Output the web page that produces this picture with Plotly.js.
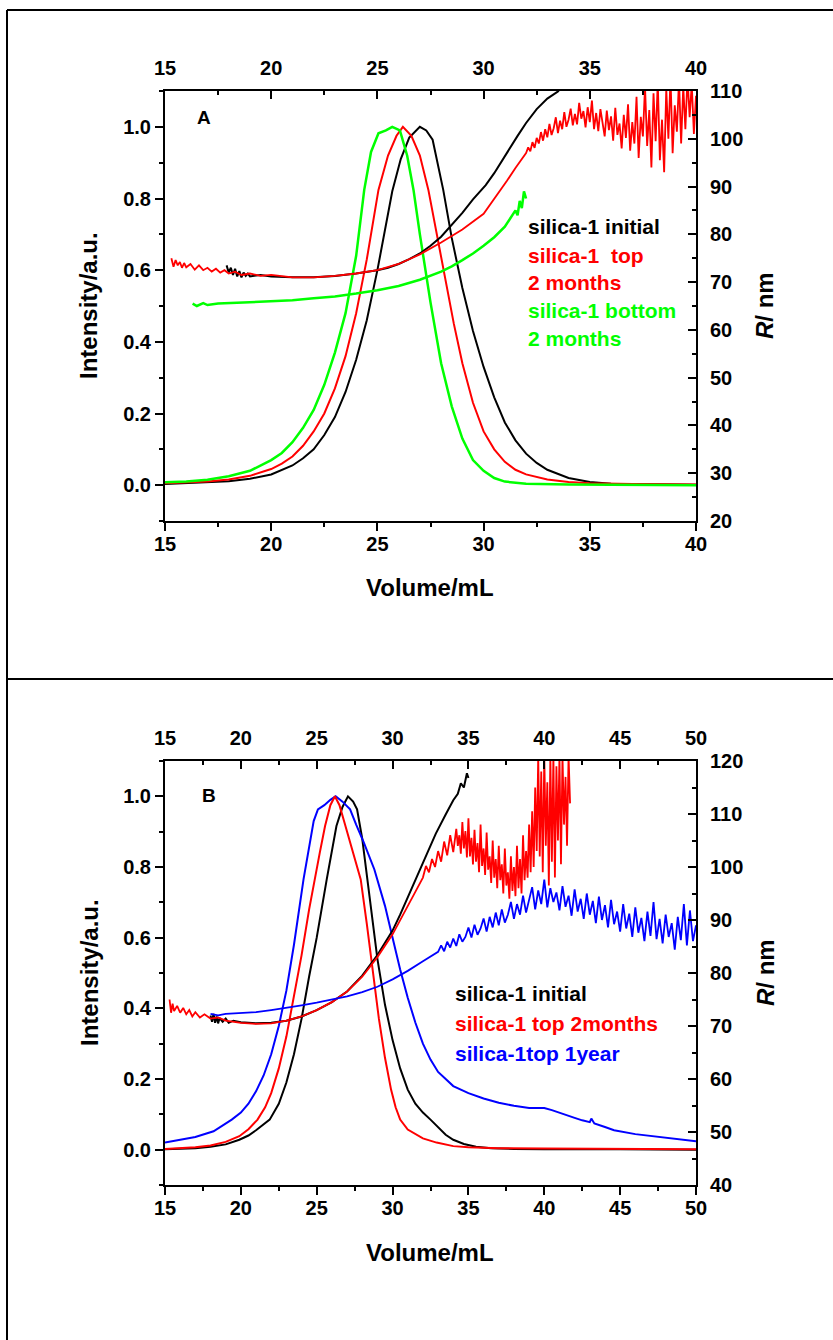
<!DOCTYPE html>
<html><head><meta charset="utf-8">
<script src="https://cdn.plot.ly/plotly-3.0.1.min.js"></script>
<style>html,body{margin:0;padding:0;background:#fff}#chart{width:833px;height:1340px}</style>
</head><body><div id="chart"></div>
<script>
// ---------- Panel A : intensity (left axis) ----------
const A_black_int_v = [15,16,17,18,19,20,21,21.5,22,22.5,23,23.5,24,24.5,25,25.4,25.7,26.1,26.5,27,27.3,27.6,28.1,28.5,29,29.5,30,30.5,31,31.5,32,32.5,33,34,35,36,38,40];
const A_black_int   = [0.003,0.005,0.007,0.011,0.018,0.03,0.055,0.075,0.1,0.14,0.19,0.26,0.35,0.46,0.6,0.72,0.82,0.91,0.97,1.0,0.99,0.964,0.824,0.69,0.55,0.43,0.33,0.245,0.175,0.125,0.088,0.062,0.043,0.02,0.009,0.004,0.002,0.001];
const A_red_int_v = [15,16,17,18,19,20,20.5,21,21.5,22,22.5,23,23.5,24,24.5,25.05,25.5,25.9,26.2,26.6,27,27.4,27.8,28.2,28.6,29,29.5,30,30.5,31,31.5,32,33,34,35,37,40];
const A_red_int   = [0.005,0.007,0.01,0.016,0.026,0.045,0.06,0.08,0.11,0.15,0.2,0.27,0.36,0.48,0.63,0.824,0.92,0.975,1.0,0.975,0.92,0.824,0.7,0.57,0.45,0.34,0.23,0.15,0.1,0.065,0.043,0.03,0.016,0.009,0.005,0.003,0.002];
const A_green_int_v = [15,16,17,18,19,20,20.5,21,21.5,22,22.5,23,23.5,24,24.38,24.7,25.05,25.4,25.7,26.06,26.4,26.7,27,27.5,28,28.5,29,29.5,30,30.5,31,32,34,36,40];
const A_green_int   = [0.008,0.01,0.015,0.025,0.04,0.07,0.09,0.12,0.16,0.21,0.28,0.37,0.48,0.64,0.824,0.93,0.982,0.99,1.0,0.99,0.92,0.824,0.7,0.51,0.34,0.22,0.13,0.07,0.04,0.02,0.01,0.004,0.002,0.001,0.0];

// ---------- Panel A : radius (right axis) ----------
const A_black_R_v = [17.9,18.0,18.1,18.2,18.3,18.4,18.5,18.6,18.7,18.8,18.9,19.0,19.5,20,21,22,23,24,25,25.5,26,26.5,27,27.5,28,28.5,29,29.5,30.1,30.5,31,31.6,32,32.5,33,33.5,33.7];
const A_black_R   = [73.5,72.0,73.0,71.5,72.8,71.2,72.3,71.0,72.0,71.3,71.8,71.2,71.5,71.2,71.0,71.0,71.3,71.8,72.5,73.0,73.8,74.8,76.0,77.6,79.5,81.9,84.5,87.3,90.3,92.8,96.4,100.6,103.3,106.2,108.4,109.9,111.0];
const A_red_R_v = [15.3,15.4,15.5,15.6,15.7,15.8,15.9,16.0,16.2,16.4,16.6,16.8,17.0,17.2,17.4,17.6,17.8,18.0,18.3,18.6,19.0,19.5,20,21,22,23,24,25,26,27,28,29,30,30.5,31.1,31.5,
  32.0,32.1,32.2,32.3,32.4,32.5,32.6,32.7,32.8,32.9,33.0,33.1,33.2,33.3,33.4,33.5,33.6,33.7,33.8,33.9,34.0,34.1,34.2,34.3,34.4,34.5,34.6,34.7,34.8,34.9,
  35.0,35.1,35.2,35.3,35.4,35.5,35.6,35.7,35.8,35.9,36.0,36.1,36.2,36.3,36.4,36.5,36.6,36.7,36.8,36.9,37.0,37.1,37.2,37.3,37.4,37.5,37.6,37.7,37.8,37.9,
  38.0,38.1,38.2,38.3,38.4,38.5,38.6,38.7,38.8,38.9,39.0,39.1,39.2,39.3,39.4,39.5,39.6,39.7,39.8,39.9,40.0];
const A_red_R   = [75.0,73.2,74.6,73.5,74.2,73.0,74.0,73.1,73.8,72.6,73.5,72.5,73.0,72.2,72.8,72.0,72.5,71.8,72.2,71.5,71.8,71.3,71.5,71.0,71.0,71.3,71.8,72.5,73.8,75.8,78.3,81.0,84.3,87.4,91.2,93.9,
  97.0,98.2,97.4,99.3,98.1,100.2,99.0,101.4,99.6,102.0,100.3,103.1,100.8,102.2,104.5,101.2,103.8,102.0,105.6,102.5,104.0,106.3,102.8,105.2,103.0,107.5,104.2,105.8,102.4,106.6,
  103.5,108.0,102.0,105.4,101.6,106.2,103.0,100.5,105.9,101.8,104.7,99.6,106.5,100.8,103.2,98.0,105.0,100.2,107.2,97.5,103.5,99.0,108.8,96.0,104.6,100.5,111.0,98.5,106.0,94.0,
  109.5,99.5,112.0,95.5,104.0,93.0,110.5,100.0,113.0,97.0,107.0,101.5,112.5,99.0,111.0,102.0,113.0,104.5,111.5,101.0,109.0];
const A_green_R_v = [16.3,16.5,16.8,17,17.5,18,19,20,21,22,23,24,25,26,27,28,28.5,29,29.5,30,30.5,31,31.3,31.5,31.6,31.7,31.8,31.9,32.0];
const A_green_R   = [65.5,65.0,65.6,65.2,65.5,65.6,65.8,66.0,66.2,66.6,67.0,67.6,68.3,69.2,70.5,72.2,73.3,74.6,76.0,77.6,79.4,81.6,83.5,85.0,84.0,87.0,85.5,89.0,87.5];

// ---------- Panel B : intensity (left axis) ----------
const B_black_int_v = [15,16,17,18,19,19.9,20.5,21,21.9,22.5,23,23.5,24,24.5,25,25.66,26,26.3,26.7,27.06,27.4,27.66,28,28.25,28.6,29,29.5,30,30.5,31,31.5,32,32.5,33,33.5,34,34.7,35.5,36.5,38,40,45,50];
const B_black_int   = [0.001,0.002,0.004,0.008,0.015,0.028,0.04,0.055,0.085,0.13,0.19,0.27,0.37,0.49,0.6,0.765,0.85,0.916,0.97,1.0,0.985,0.963,0.88,0.793,0.67,0.54,0.41,0.31,0.23,0.17,0.13,0.105,0.085,0.062,0.042,0.028,0.016,0.008,0.004,0.002,0.001,0.001,0.0];
const B_red_int_v = [15,16,17,18,19,19.9,20.5,21.1,21.6,22,22.5,23,23.5,24,24.5,24.85,25.2,25.55,25.9,26.2,26.5,26.8,27.2,27.9,28.3,28.7,29.1,29.5,29.9,30.2,30.5,31,31.4,32,32.9,34,35,37,40,45,50];
const B_red_int   = [0.002,0.004,0.007,0.012,0.022,0.038,0.058,0.085,0.12,0.16,0.23,0.32,0.43,0.55,0.68,0.765,0.84,0.916,0.975,1.0,0.975,0.93,0.87,0.765,0.64,0.5,0.37,0.26,0.17,0.12,0.085,0.057,0.047,0.032,0.02,0.01,0.007,0.004,0.003,0.002,0.001];
const B_blue_int_v = [15,16,17,18.2,19.4,20,20.5,21,21.5,22,22.5,23,23.5,24.13,24.5,24.8,25.08,25.5,25.9,26.25,26.7,27.2,27.6,28.1,28.8,29.5,30,30.5,31,31.5,32,32.5,33,34,35,36,37,38,39,39.5,40,40.5,41,42,42.5,43,43.1,43.3,44,44.6,46,48,50];
const B_blue_int   = [0.02,0.027,0.036,0.052,0.085,0.105,0.13,0.165,0.21,0.27,0.35,0.45,0.58,0.765,0.86,0.93,0.963,0.975,0.99,1.0,0.985,0.963,0.92,0.87,0.793,0.69,0.6,0.51,0.43,0.36,0.3,0.255,0.22,0.18,0.16,0.145,0.133,0.124,0.118,0.117,0.118,0.112,0.104,0.09,0.083,0.078,0.088,0.074,0.064,0.055,0.044,0.033,0.024];

// ---------- Panel B : radius (right axis) ----------
const B_black_R_v = [18.0,18.1,18.2,18.3,18.4,18.5,18.6,18.8,19.0,19.2,19.5,20,21,22,23,24,25,26,27,28,29,30,30.5,31.2,32,32.85,33.5,34,34.3,34.5,34.7,34.9,35.0];
const B_black_R   = [72.0,70.8,72.3,70.6,71.8,70.5,71.5,70.8,71.4,70.6,71.0,70.7,70.5,70.6,71.0,71.8,73.0,74.5,76.5,79.5,83.4,88.0,91.0,95.6,100.8,106.3,109.9,112.6,113.8,115.8,115.0,117.7,116.8];
const B_red_R_v = [15.3,15.4,15.5,15.6,15.8,16.0,16.2,16.4,16.6,16.8,17.0,17.3,17.6,18.0,18.5,19,20,21,22,23,24,25,26,27,28,29,30,30.5,31,31.5,
  32.0,32.2,32.4,32.6,32.8,33.0,33.2,33.4,33.6,33.8,34.0,34.2,34.3,34.4,34.5,34.6,34.7,34.8,34.9,
  35.0,35.1,35.2,35.3,35.4,35.5,35.6,35.7,35.8,35.9,36.0,36.1,36.2,36.3,36.4,36.5,36.6,36.7,36.8,36.9,
  37.0,37.1,37.2,37.3,37.4,37.5,37.6,37.7,37.8,37.9,38.0,38.1,38.2,38.3,38.4,38.5,38.6,38.7,38.8,38.9,
  39.0,39.1,39.2,39.3,39.4,39.5,39.6,39.7,39.8,39.9,40.0,40.1,40.2,40.3,40.4,40.5,40.6,40.7,40.8,40.9,
  41.0,41.1,41.2,41.3,41.4,41.5,41.6,41.7];
const B_red_R   = [75.0,72.5,74.2,72.8,73.8,72.5,73.4,72.2,73.0,71.8,72.6,71.6,72.2,71.4,71.6,71.0,70.6,70.4,70.5,71.0,71.8,73.0,74.5,76.5,79.3,83.0,87.3,89.9,92.6,95.3,
  98.0,100.2,99.0,101.5,100.0,103.0,101.0,104.8,102.2,106.0,102.8,107.2,104.0,106.0,102.5,108.5,103.5,106.8,101.8,
  109.2,102.0,105.5,100.5,107.0,101.0,104.5,99.0,108.0,100.2,103.5,98.5,106.5,99.5,102.0,97.0,105.0,98.0,101.5,96.0,
  104.0,97.5,100.5,95.0,103.5,96.5,99.0,94.0,102.0,95.5,100.0,94.5,104.0,96.0,101.5,95.0,106.0,97.5,103.0,98.0,
  108.0,99.0,110.5,100.0,115.0,103.0,121.0,102.0,118.0,99.0,121.0,104.0,116.0,96.5,121.0,101.0,121.0,98.0,119.0,105.0,
  121.0,100.5,121.0,108.0,117.0,104.0,121.0,112.0];
const B_blue_R_v = [18,18.5,19,20,21,22,23,24,25,26,27,28,29,30,31,32,
  33.0,33.2,33.4,33.6,33.8,34.0,34.2,34.4,34.6,34.8,35.0,35.2,35.4,35.6,35.8,36.0,36.2,36.4,36.6,36.8,
  37.0,37.2,37.4,37.6,37.8,38.0,38.2,38.4,38.6,38.8,39.0,39.2,39.4,39.6,39.8,40.0,40.2,40.4,40.6,40.8,
  41.0,41.2,41.4,41.6,41.8,42.0,42.2,42.4,42.6,42.8,43.0,43.2,43.4,43.6,43.8,44.0,44.2,44.4,44.6,44.8,
  45.0,45.2,45.4,45.6,45.8,46.0,46.2,46.4,46.6,46.8,47.0,47.2,47.4,47.6,47.8,48.0,48.2,48.4,48.6,48.8,
  49.0,49.2,49.4,49.6,49.8,50.0];
const B_blue_R   = [72.3,72.0,72.3,72.4,72.6,73.0,73.4,73.9,74.4,75.0,75.6,76.4,77.4,78.8,80.4,82.2,
  84.0,85.2,84.1,85.9,84.8,86.5,85.1,87.3,85.9,86.8,88.6,86.7,89.1,87.2,88.4,90.3,87.8,90.6,88.6,91.4,
  89.0,92.0,89.5,91.0,93.4,90.2,93.0,91.0,94.6,91.4,93.8,96.2,92.0,95.6,93.0,97.6,92.4,96.0,93.4,95.2,
  91.8,96.4,92.5,94.6,90.8,95.8,91.6,94.0,90.2,95.0,91.0,93.6,89.4,94.4,90.0,92.8,88.6,93.8,89.2,91.6,
  87.8,93.0,88.4,91.2,86.8,92.4,87.6,90.4,86.0,91.6,87.0,93.4,86.4,90.2,85.6,91.0,86.8,89.4,84.4,90.6,
  86.2,93.0,85.2,91.8,86.0,89.0];

// ---------- texts ----------
const legendA = [["silica-1 initial","#000000"],["silica-1\u00a0\u00a0top","#ff0000"],["2 months","#ff0000"],["silica-1 bottom","#00ff00"],["2 months","#00ff00"]];
const legendB = [["silica-1 initial","#000000"],["silica-1 top 2months","#ff0000"],["silica-1top 1year","#0000ff"]];
const xTitle = "Volume/mL", yTitle = "Intensity/a.u.", y2Title = "<i>R</i>/ nm";

// ---------- build ----------
const W = 833, H = 1340;
const FONT = "Liberation Sans, Arial, sans-serif";
const px = x => x / W, py = y => 1 - y / H;
function line(x, y, color, xa, ya, w) {
  return {type:'scatter', mode:'lines', x:x, y:y, xaxis:xa, yaxis:ya,
          line:{color:color, width:w||2}, hoverinfo:'skip'};
}
const traces = [
  line(A_black_int_v, A_black_int, '#000000', 'x', 'y'),
  line(A_red_int_v, A_red_int, '#ff0000', 'x', 'y'),
  line(A_green_int_v, A_green_int, '#00ff00', 'x', 'y', 2.5),
  line(A_black_R_v, A_black_R, '#000000', 'x', 'y2'),
  line(A_red_R_v, A_red_R, '#ff0000', 'x', 'y2', 1.8),
  line(A_green_R_v, A_green_R, '#00ff00', 'x', 'y2', 2.5),
  {type:'scatter', mode:'lines', x:[], y:[], xaxis:'x2', yaxis:'y', hoverinfo:'skip'},
  line(B_black_int_v, B_black_int, '#000000', 'x3', 'y3'),
  line(B_blue_int_v, B_blue_int, '#0000ff', 'x3', 'y3'),
  line(B_red_int_v, B_red_int, '#ff0000', 'x3', 'y3'),
  line(B_black_R_v, B_black_R, '#000000', 'x3', 'y4'),
  line(B_red_R_v, B_red_R, '#ff0000', 'x3', 'y4', 1.8),
  line(B_blue_R_v, B_blue_R, '#0000ff', 'x3', 'y4', 1.8),
  {type:'scatter', mode:'lines', x:[], y:[], xaxis:'x4', yaxis:'y3', hoverinfo:'skip'}
];
const tickfont = {family:FONT, size:20, color:'#000', weight:'bold'};
function ax(o) {
  return Object.assign({showline:true, linewidth:2, linecolor:'#000', showgrid:false, zeroline:false,
    ticklen:8, tickwidth:2, tickcolor:'#000', tickfont:tickfont, fixedrange:true}, o);
}
const domX = [px(165), px(696)];
const domA = [py(521), py(91)], domB = [py(1185), py(761)];
const xTicks = (r, side) => ({range:r, dtick:5, tick0:15,
  ticks: side === 'top' ? 'inside' : 'outside',
  ticklabelstandoff: side === 'top' ? 6 : -4,
  minor:{ticks: side === 'top' ? 'inside' : 'outside', ticklen:4, tickwidth:2, tickcolor:'#000', dtick:2.5, tick0:15}});
const layout = {
  width:W, height:H, margin:{l:0,r:0,t:0,b:0}, showlegend:false,
  paper_bgcolor:'#fff', plot_bgcolor:'#fff',
  xaxis: ax(Object.assign({domain:domX, anchor:'y'}, xTicks([15,40],'bottom'))),
  xaxis2: ax(Object.assign({overlaying:'x', side:'top', anchor:'y'}, xTicks([15,40],'top'))),
  yaxis: ax({domain:domA, anchor:'x', range:[-0.1,1.1], dtick:0.2, tick0:0, tickformat:'.1f', ticks:'outside',
             minor:{ticks:'outside', ticklen:4, tickwidth:2, tickcolor:'#000', dtick:0.1, tick0:0}}),
  yaxis2: ax({overlaying:'y', side:'right', anchor:'x', range:[20,110], dtick:10, tick0:20, ticks:'inside', ticklabelstandoff:8,
             minor:{ticks:'inside', ticklen:4, tickwidth:2, tickcolor:'#000', dtick:5, tick0:20}}),
  xaxis3: ax(Object.assign({domain:domX, anchor:'y3'}, xTicks([15,50],'bottom'))),
  xaxis4: ax(Object.assign({overlaying:'x3', side:'top', anchor:'y3'}, xTicks([15,50],'top'))),
  yaxis3: ax({domain:domB, anchor:'x3', range:[-0.1,1.1], dtick:0.2, tick0:0, tickformat:'.1f', ticks:'outside',
             minor:{ticks:'outside', ticklen:4, tickwidth:2, tickcolor:'#000', dtick:0.1, tick0:0}}),
  yaxis4: ax({overlaying:'y3', side:'right', anchor:'x3', range:[40,120], dtick:10, tick0:40, ticks:'inside', ticklabelstandoff:8,
             minor:{ticks:'inside', ticklen:4, tickwidth:2, tickcolor:'#000', dtick:5, tick0:40}}),
  shapes: [
    {type:'line', xref:'paper', yref:'paper', x0:px(7), x1:px(7), y0:0, y1:py(10), line:{color:'#000', width:2}},
    {type:'line', xref:'paper', yref:'paper', x0:px(7), x1:1, y0:py(10), y1:py(10), line:{color:'#000', width:2}},
    {type:'line', xref:'paper', yref:'paper', x0:px(7), x1:1, y0:py(679), y1:py(679), line:{color:'#000', width:2}}
  ],
  annotations: []
};
const ann = layout.annotations;
function txt(text, x, y, size, color, opts) {
  ann.push(Object.assign({text:text, xref:'paper', yref:'paper', x:px(x), y:py(y), showarrow:false,
    xanchor:'left', yanchor:'middle', font:{family:FONT, size:size, color:color||'#000', weight:'bold'}}, opts||{}));
}
// titles panel A
txt(xTitle, 430, 587, 24, '#000', {xanchor:'center'});
txt(yTitle, 89, 306, 24, '#000', {xanchor:'center', textangle:-90});
txt(y2Title, 765, 306, 24, '#000', {xanchor:'center', textangle:-90});
txt("A", 195, 117, 19);
// titles panel B
txt(xTitle, 430, 1252, 24, '#000', {xanchor:'center'});
txt(yTitle, 89, 973, 24, '#000', {xanchor:'center', textangle:-90});
txt(y2Title, 765, 973, 24, '#000', {xanchor:'center', textangle:-90});
txt("B", 200, 795, 19);
// legends
const legAy = [226, 255, 283, 310, 338];
legendA.forEach((l, i) => txt(l[0], 526, legAy[i], 21, l[1]));
const legBy = [993, 1023, 1053];
legendB.forEach((l, i) => txt(l[0], 453, legBy[i], 21, l[1]));

Plotly.newPlot('chart', traces, layout, {staticPlot:true, displayModeBar:false});
</script></body></html>
